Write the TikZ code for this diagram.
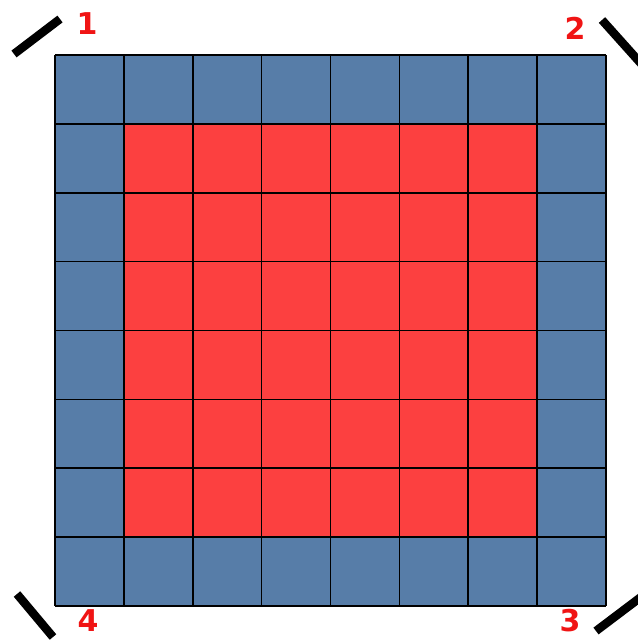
\documentclass[tikz,border=0pt]{standalone}
\usepackage{fontspec}
\setmainfont{DejaVu Sans}
\definecolor{cellblue}{RGB}{87,125,168}
\definecolor{cellred}{RGB}{252,64,64}
\definecolor{numred}{RGB}{240,20,20}
\begin{document}
\begin{tikzpicture}[x=1pt,y=-1pt,
  mark line/.style={line width=8.5pt,black},
  num/.style={text=numred,font=\bfseries\fontsize{30}{30}\selectfont,inner sep=0pt},
  gridline/.style={line width=1.6pt,black}]
\clip (0,0) rectangle (638,641);
\fill[white] (0,0) rectangle (638,641);
\def\c{68.875}
% blue border cells
\fill[cellblue] (55,55) rectangle (606,606);
% red interior
\fill[cellred] (55+\c,55+\c) rectangle (606-\c,606-\c);
% grid
\foreach \i in {0,...,8}{
  \draw[gridline] (55+\i*\c,55) -- (55+\i*\c,606);
  \draw[gridline] (55,55+\i*\c) -- (606,55+\i*\c);
}
% corner marks
\coordinate (m1a) at (14,54); \coordinate (m1b) at (60,19);
\coordinate (m2a) at (602,20); \coordinate (m2b) at (645,68);
\coordinate (m3a) at (596,631); \coordinate (m3b) at (645,594);
\coordinate (m4a) at (17,594); \coordinate (m4b) at (53,637);
\draw[mark line] (m1a) -- (m1b);
\draw[mark line] (m2a) -- (m2b);
\draw[mark line] (m3a) -- (m3b);
\draw[mark line] (m4a) -- (m4b);
\node[num] (n1) at (87,24) {1};
\node[num] (n2) at (575,28) {2};
\node[num] (n3) at (570,621) {3};
\node[num] (n4) at (88,621) {4};
\end{tikzpicture}
\end{document}
